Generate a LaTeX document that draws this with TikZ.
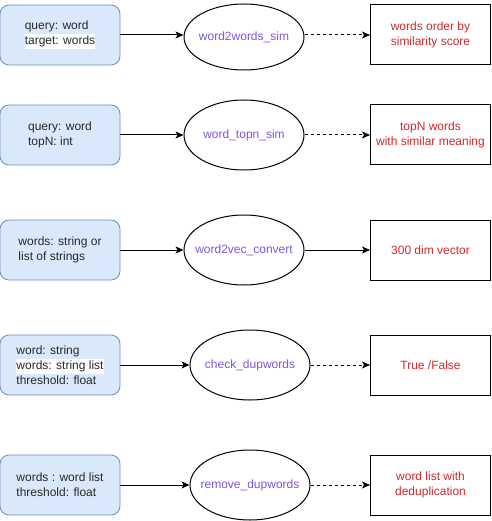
\documentclass[tikz,border=0pt]{standalone}
\usepackage{fontspec}
\setmainfont{Liberation Sans}
\usetikzlibrary{shapes.geometric,arrows.meta}
\definecolor{inblue}{RGB}{218,232,252}
\definecolor{inborder}{RGB}{108,142,191}
\definecolor{fnpurple}{RGB}{128,84,220}
\definecolor{outred}{RGB}{208,40,40}
\definecolor{intext}{RGB}{40,40,40}
\tikzset{
  inbox/.style={draw=inborder, fill=inblue, rounded corners=9pt, minimum width=120pt, minimum height=60pt, inner sep=0pt, align=left, text=intext, line width=0.8pt},
  fnell/.style={draw=black, ellipse, minimum width=120pt, minimum height=70pt, inner sep=0pt, line width=1pt},
  fnlabel/.style={text=fnpurple, inner sep=0pt},
  outbox/.style={draw=black, rectangle, minimum width=120pt, minimum height=60pt, inner sep=0pt, align=center, text=outred, line width=1pt},
  solidarr/.style={-{Stealth[length=8pt,width=7pt,inset=2pt]}, line width=1pt},
  dasharr/.style={solidarr, dash pattern=on 3pt off 3pt},
}
\newcommand{\wbg}[1]{{\setlength{\fboxsep}{0pt}\colorbox{white}{\strut #1}}}
\begin{document}
\begin{tikzpicture}[x=1pt,y=-1pt, font=\fontsize{12}{15}\selectfont]
\useasboundingbox (0,0) rectangle (491,521);
% row 1
\node[inbox] (in1) at (60,35) {query: word\\\wbg{target: words}};
\node[fnell, minimum height=66pt, label={[fnlabel]center:word2words\_sim}] (fn1) at (244,37) {};
\node[outbox] (out1) at (430.5,35) {words order by\\similarity score};
\draw[solidarr] (in1.east) -- (in1.east -| fn1.west);
\draw[dasharr] (fn1.east |- out1.west) -- (out1.west);
% row 2
\node[inbox] (in2) at (60,135) {query: word\\topN: int};
\node[fnell, label={[fnlabel]center:word\_topn\_sim}] (fn2) at (244,135) {};
\node[outbox] (out2) at (430.5,135) {topN words\\with similar meaning};
\draw[solidarr] (in2) -- (fn2);
\draw[dasharr] (fn2) -- (out2);
% row 3
\node[inbox] (in3) at (60,250) {words: string or\\list of strings};
\node[fnell, label={[fnlabel]center:word2vec\_convert}] (fn3) at (244,250) {};
\node[outbox] (out3) at (430.5,250) {300 dim vector};
\draw[solidarr] (in3) -- (fn3);
\draw[solidarr] (fn3) -- (out3);
% row 4
\node[inbox] (in4) at (60,365) {word: string\\\wbg{words: string list}\\threshold: float};
\node[fnell, label={[fnlabel]center:check\_dupwords}] (fn4) at (250,365) {};
\node[outbox] (out4) at (430.5,365) {True /False};
\draw[solidarr] (in4) -- (fn4);
\draw[dasharr] (fn4) -- (out4);
% row 5
\node[inbox] (in5) at (60,485) {words : word list\\threshold: float};
\node[fnell, label={[fnlabel]center:remove\_dupwords}] (fn5) at (250,485) {};
\node[outbox] (out5) at (430.5,485) {word list with\\deduplication};
\draw[solidarr] (in5) -- (fn5);
\draw[dasharr] (fn5) -- (out5);
\end{tikzpicture}
\end{document}
